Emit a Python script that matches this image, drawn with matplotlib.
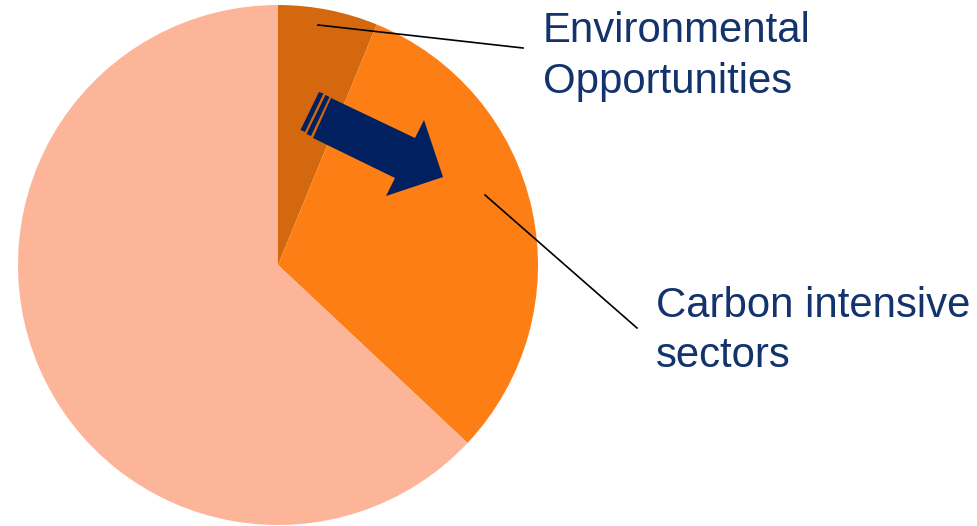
import matplotlib.pyplot as plt
from matplotlib.patches import Polygon

env_lines = ["Environmental", "Opportunities"]
carbon_lines = ["Carbon intensive", "sectors"]
shares = [6.2, 30.8, 63.0]
colors = ["#D4680F", "#FC7E14", "#FDB59A"]

navy = "#002060"
text_col = "#12336B"

fig = plt.figure(figsize=(9.78, 5.26), dpi=100)
ax = fig.add_axes([0, 0, 1, 1])

cx, cy, r = 278, 526 - 265, 260
ax.pie(shares, colors=colors, startangle=90, counterclock=False,
       center=(cx, cy), radius=r, frame=True,
       wedgeprops=dict(linewidth=0))
ax.set_xlim(0, 978)
ax.set_ylim(0, 526)
ax.axis("off")


# pixel coords from the top-left, flipped for the axes
def p(x, y):
    return (x, 526 - y)


# striped arrow
body = [p(331, 98), p(415, 138), p(424, 120), p(443, 177),
        p(386, 196), p(395, 178), p(313, 138)]
ax.add_patch(Polygon(body, closed=True, color=navy, lw=0))
stripes = [
    [p(319, 92), p(323.5, 93.5), p(305, 132), p(300.5, 130)],
    [p(325.5, 95), p(329.5, 97), p(311, 136), p(306.5, 134)],
]
for s in stripes:
    ax.add_patch(Polygon(s, closed=True, color=navy, lw=0))

# leader lines
ax.plot([318, 523], [526 - 25, 526 - 48], color="black", lw=1.2)
ax.plot([485, 637], [526 - 195, 526 - 328], color="black", lw=1.2)

font = dict(fontsize=30.2, color=text_col, ha="left", va="baseline",
            family="Liberation Sans")
for i, line in enumerate(env_lines):
    ax.text(543, 526 - (42 + 51 * i), line, **font)
for i, line in enumerate(carbon_lines):
    ax.text(656, 526 - (317 + 50 * i), line, **font)

fig.savefig("out.png", dpi=100)
